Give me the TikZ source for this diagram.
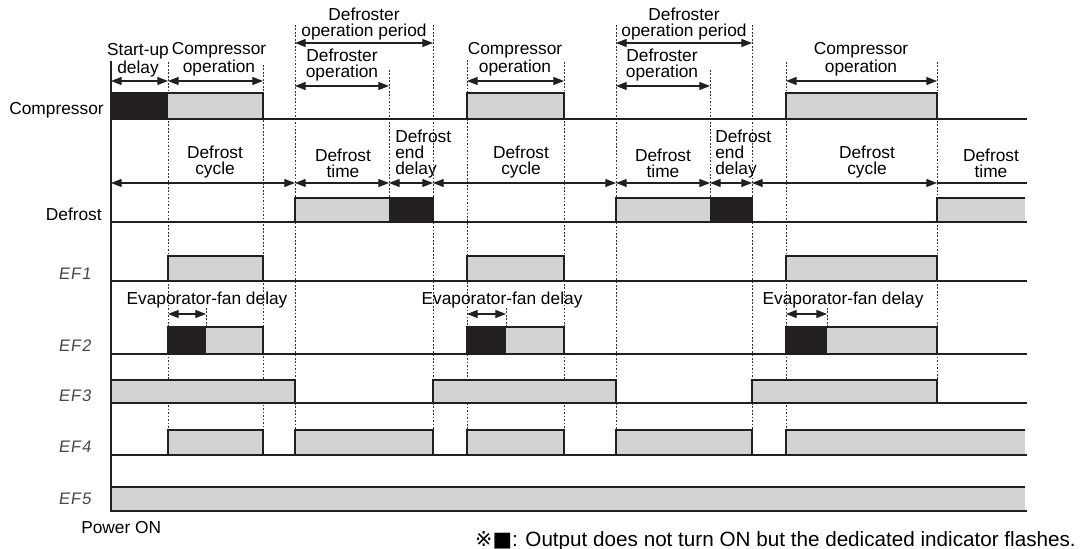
\documentclass[tikz,border=0pt]{standalone}
\usepackage{fontspec}
\setmainfont{Liberation Sans}
\newfontfamily\segfont[FakeSlant=0.15,LetterSpace=6]{Liberation Sans}
\newfontfamily\symfont{DejaVu Sans}
\usetikzlibrary{arrows.meta}
\definecolor{offgray}{RGB}{210,211,212}
\definecolor{flashblk}{RGB}{35,31,32}

\begin{document}
\begin{tikzpicture}[x=0.75pt,y=-0.75pt,
    onbox/.style={draw=flashblk,line width=1.5pt,fill=offgray},
    openbox/.style={draw=flashblk,line width=1.5pt},
    rowline/.style={line width=0.8pt,draw=flashblk},
    cue/.style={line width=0.75pt,draw=black!80,dash pattern=on 1.3pt off 1.3pt},
    span/.style={line width=0.85pt,draw=flashblk,{Triangle[length=8pt,width=6pt]}-{Triangle[length=8pt,width=6pt]}},
    lbl/.style={font=\fontsize{13}{12}\selectfont,align=center,inner sep=0pt},
    sig/.style={font=\segfont\fontsize{12.5}{12}\selectfont,text=black!72,inner sep=0pt,anchor=base west}]
  \useasboundingbox (0,0) rectangle (1083,549);

  % Timing marks
  \foreach \x/\t/\b in {168/62/430, 263/65/430, 295/25/430, 389/70/198, 433/25/430,
      467/60/430, 564/62/430, 616/25/430, 710/70/198, 752/25/430, 786/62/430,
      937/62/380, 206/308/327, 506/308/327, 827/308/327}
    \draw[cue] (\x,\t) -- (\x,\b);

  % Time axis and signal lines
  \draw[rowline] (111,61) -- (111,511);
  \foreach \y in {119,222,281,354,403,455,511}
    \draw[rowline] (111,\y) -- (1027,\y);

  % Signal names
  \node[lbl,anchor=base east] (comp) at (104,115) {Compressor};
  \node[lbl,anchor=base east] (defr) at (102,221) {Defrost};
  \node[sig] (ef1) at (58,280) {EF1};
  \node[sig] (ef2) at (58,351) {EF2};
  \node[sig] (ef3) at (58,402) {EF3};
  \node[sig] (ef4) at (58,452) {EF4};
  \node[sig] (ef5) at (58,504) {EF5};
  \node[lbl,anchor=base west] (pwr) at (81,533) {Power ON};

  % ON periods: from/to/top/bottom
  \foreach \a/\b/\t/\u in {111/263/93/119, 467/564/93/119, 786/937/93/119,
      295/433/198/222, 616/752/198/222,
      168/263/256/281, 467/564/256/281, 786/937/256/281,
      168/263/327/354, 467/564/327/354, 786/937/327/354,
      111/295/380/403, 433/616/380/403, 752/937/380/403,
      168/263/430/455, 295/433/430/455, 467/564/430/455, 616/752/430/455}
    \filldraw[onbox] (\a,\t) rectangle (\b,\u);

  % Periods running past the right edge
  \foreach \a/\t/\u in {937/198/222, 786/430/455, 111/487/511} {
    \fill[offgray] (\a,\t) rectangle (1025,\u);
    \draw[openbox] (1025,\t) -- (\a,\t) -- (\a,\u) -- (1025,\u);
  }

  % Flashing parts (output stays OFF)
  \foreach \a/\b/\t/\u in {111/168/93/119, 389/433/198/222, 710/752/198/222,
      168/206/327/354, 467/506/327/354, 786/827/327/354}
    \fill[flashblk] (\a,\t) rectangle (\b,\u);

  % Compressor spans
  \draw[span] (111,81) -- (168,81);
  \draw[span] (168,81) -- (263,81);
  \draw[span] (467,81) -- (564,81);
  \draw[span] (786,81) -- (937,81);
  \node[lbl,anchor=south] (sud) at (138,77) {Start-up\\delay};
  \node[lbl,anchor=south] (cop1) at (219,76) {Compressor\\operation};
  \node[lbl,anchor=south] (cop2) at (515,76) {Compressor\\operation};
  \node[lbl,anchor=south] (cop3) at (861,76) {Compressor\\operation};

  % Defroster spans
  \draw[span] (295,43) -- (433,43);
  \draw[span] (295,86) -- (389,86);
  \draw[span] (616,43) -- (752,43);
  \draw[span] (616,86) -- (710,86);
  \node[lbl,anchor=south] (dop1) at (364,40) {Defroster\\operation period};
  \node[lbl,anchor=south] (dro1) at (342,81) {Defroster\\operation};
  \node[lbl,anchor=south] (dop2) at (684,40) {Defroster\\operation period};
  \node[lbl,anchor=south] (dro2) at (662,81) {Defroster\\operation};

  % Defrost row spans
  \foreach \a/\b in {111/295, 295/389, 389/433, 433/616, 616/710, 710/752, 752/937}
    \draw[span] (\a,183) -- (\b,183);
  \draw[span,-] (937,183) -- (1027,183);
  \draw[span,-{}] (937,183) -- (960,183);
  \node[lbl,anchor=south] (dc1) at (215,178) {Defrost\\cycle};
  \node[lbl,anchor=south] (dt1) at (343,178) {Defrost\\time};
  \node[lbl,anchor=south west,align=left] (dd1) at (395,178) {Defrost\\end\\delay};
  \node[lbl,anchor=south] (dc2) at (521,178) {Defrost\\cycle};
  \node[lbl,anchor=south] (dt2) at (663,178) {Defrost\\time};
  \node[lbl,anchor=south west,align=left] (dd2) at (715,178) {Defrost\\end\\delay};
  \node[lbl,anchor=south] (dc3) at (867,178) {Defrost\\cycle};
  \node[lbl,anchor=south] (dt3) at (991,178) {Defrost\\time};

  % Evaporator-fan delay
  \draw[span] (168,314) -- (206,314);
  \draw[span] (467,314) -- (506,314);
  \draw[span] (786,314) -- (827,314);
  \node[lbl,anchor=base] (efd1) at (207,305) {Evaporator-fan delay};
  \node[lbl,anchor=base] (efd2) at (502,305) {Evaporator-fan delay};
  \node[lbl,anchor=base] (efd3) at (843,305) {Evaporator-fan delay};

  % Note
  \node[lbl,font=\fontsize{15.5}{16}\selectfont,anchor=base east] (note) at (1076,546)
    {{\symfont ※■}: Output does not turn ON but the dedicated indicator flashes.};
\end{tikzpicture}
\end{document}
